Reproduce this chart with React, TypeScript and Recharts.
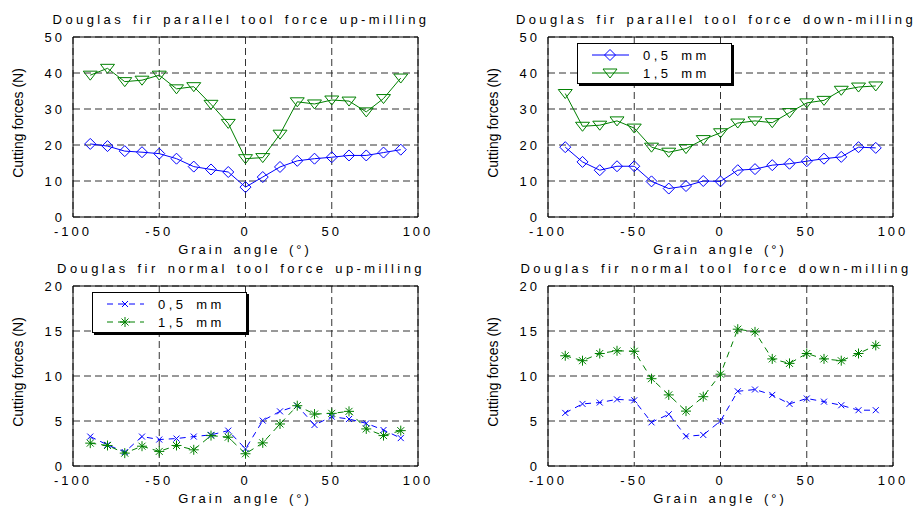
import { CartesianGrid, Line, LineChart, ReferenceArea, XAxis, YAxis } from "recharts";

const angles = [-90, -80, -70, -60, -50, -40, -30, -20, -10, 0, 10, 20, 30, 40, 50, 60, 70, 80, 90];

const parallelUpThin = [20.3, 19.7, 18.3, 18, 17.6, 16.2, 14, 13.2, 12.5, 8.3, 11.1, 13.9, 15.6, 16.2, 16.6, 17.1, 17.1, 17.9, 18.7];
const parallelUpThick = [39.4, 41.3, 37.6, 38, 39.4, 35.6, 36.2, 31.3, 26, 16.2, 16.5, 23, 32, 31.4, 32.5, 32.2, 29.2, 32.9, 38.6];
const parallelDownThin = [19.4, 15.3, 13, 14.1, 14.1, 9.9, 7.9, 8.6, 10, 9.9, 13, 13.3, 14.4, 14.8, 15.5, 16.2, 16.7, 19.4, 19.2];
const parallelDownThick = [34.3, 25.2, 25.5, 26.7, 24.7, 19.4, 18, 19, 21.5, 23.4, 26.1, 26.7, 26.2, 29, 31.7, 32.4, 35.2, 36.1, 36.4];
const normalUpThin = [3.27, 2.35, 1.55, 3.27, 2.94, 3.05, 3.27, 3.46, 3.93, 1.9, 5.04, 6.07, 6.7, 4.56, 5.48, 5.22, 4.74, 4.0, 3.1];
const normalUpThick = [2.54, 2.28, 1.43, 2.2, 1.62, 2.28, 1.8, 3.38, 3.2, 1.36, 2.57, 4.67, 6.7, 5.77, 5.85, 6.07, 4.12, 3.38, 3.93];
const normalDownThin = [5.9, 6.9, 7.05, 7.4, 7.3, 4.85, 5.75, 3.3, 3.45, 5.0, 8.3, 8.5, 7.9, 6.9, 7.5, 7.15, 6.75, 6.2, 6.2];
const normalDownThick = [12.25, 11.7, 12.5, 12.8, 12.75, 9.7, 7.9, 6.1, 7.7, 10.2, 15.2, 14.9, 11.9, 11.4, 12.5, 11.9, 11.7, 12.5, 13.4];

const xTicks = [-100, -50, 0, 50, 100];
const parallelTicks = [0, 10, 20, 30, 40, 50];
const normalTicks = [0, 5, 10, 15, 20];
const legendLabels = ["0,5 mm", "1,5 mm"];

const BLUE = "#0000ff";
const GREEN = "#008000";
const FONT = "'Liberation Sans', Arial, sans-serif";

type Marker = "diamond" | "triangle" | "cross" | "star";

function MarkerShape({ kind, cx, cy, color }: { kind: Marker; cx: number; cy: number; color: string }) {
  if (kind === "diamond") {
    return <polygon points={`${cx},${cy - 5.5} ${cx + 5.5},${cy} ${cx},${cy + 5.5} ${cx - 5.5},${cy}`} fill="none" stroke={color} />;
  }
  if (kind === "triangle") {
    return <polygon points={`${cx - 7},${cy - 4} ${cx + 7},${cy - 4} ${cx},${cy + 5}`} fill="none" stroke={color} />;
  }
  if (kind === "cross") {
    return (
      <g stroke={color}>
        <line x1={cx - 3} y1={cy - 3} x2={cx + 3} y2={cy + 3} />
        <line x1={cx - 3} y1={cy + 3} x2={cx + 3} y2={cy - 3} />
      </g>
    );
  }
  return (
    <g stroke={color}>
      <line x1={cx - 5} y1={cy} x2={cx + 5} y2={cy} />
      <line x1={cx} y1={cy - 5} x2={cx} y2={cy + 5} />
      <line x1={cx - 3.5} y1={cy - 3.5} x2={cx + 3.5} y2={cy + 3.5} />
      <line x1={cx - 3.5} y1={cy + 3.5} x2={cx + 3.5} y2={cy - 3.5} />
    </g>
  );
}

type PanelProps = {
  left: number;
  top: number;
  title: string;
  thin: number[];
  thick: number[];
  yMax: number;
  yTicks: number[];
  dashed: boolean;
  markers: [Marker, Marker];
};

function Panel({ left, top, title, thin, thick, yMax, yTicks, dashed, markers }: PanelProps) {
  const data = angles.map((angle, i) => ({ angle, thin: thin[i], thick: thick[i] }));
  const tickStyle = { fontSize: 13, fill: "#000", fontFamily: FONT, letterSpacing: 3 };
  const series = [
    { key: "thin", color: BLUE, marker: markers[0] },
    { key: "thick", color: GREEN, marker: markers[1] }
  ];

  return (
    <div style={{ position: "absolute", left, top, width: 460, height: 255 }}>
      <LineChart width={460} height={255} data={data} margin={{ top: 37, right: 42, bottom: 8, left: 33 }}>
        <CartesianGrid stroke="#333" strokeDasharray="7 4" />
        <XAxis
          dataKey="angle"
          type="number"
          domain={[-100, 100]}
          ticks={xTicks}
          tickLine={false}
          axisLine={false}
          height={30}
          tickMargin={4}
          tick={tickStyle}
        />
        <YAxis
          type="number"
          domain={[0, yMax]}
          ticks={yTicks}
          tickLine={false}
          axisLine={false}
          width={40}
          tick={tickStyle}
        />
        <ReferenceArea x1={-100} x2={100} y1={0} y2={yMax} fill="none" stroke="#000" strokeOpacity={1} />
        {series.map((s) => (
          <Line
            key={s.key}
            dataKey={s.key}
            type="linear"
            stroke={s.color}
            strokeWidth={1}
            strokeDasharray={dashed ? "6 5" : undefined}
            isAnimationActive={false}
            dot={(p: any) => <MarkerShape key={`${s.key}-${p.index}`} kind={s.marker} cx={p.cx} cy={p.cy} color={s.color} />}
            activeDot={false}
          />
        ))}
      </LineChart>
      <div
        style={{
          position: "absolute",
          left: 241,
          top: 19,
          transform: "translate(-50%, -50%)",
          whiteSpace: "nowrap",
          fontSize: 13,
          letterSpacing: 3.4,
          wordSpacing: 2
        }}
      >
        {title}
      </div>
      <div
        style={{
          position: "absolute",
          left: 245,
          top: 249,
          transform: "translate(-50%, -50%)",
          whiteSpace: "nowrap",
          fontSize: 13,
          letterSpacing: 3,
          wordSpacing: 2
        }}
      >
        Grain angle (°)
      </div>
      <div
        style={{
          position: "absolute",
          left: 18,
          top: 123,
          transform: "translate(-50%, -50%) rotate(-90deg)",
          whiteSpace: "nowrap",
          fontSize: 14
        }}
      >
        Cutting forces (N)
      </div>
    </div>
  );
}

function LegendBox({ left, top, markers, dashed }: { left: number; top: number; markers: [Marker, Marker]; dashed: boolean }) {
  const colors = [BLUE, GREEN];
  return (
    <div
      style={{
        position: "absolute",
        left,
        top,
        width: 153,
        height: 39,
        background: "#fff",
        border: "1px solid #000",
        boxShadow: "2px 2px 0 #000"
      }}
    >
      {legendLabels.map((label, i) => (
        <div key={label} style={{ position: "absolute", left: 0, top: 2 + i * 18, height: 18, display: "flex", alignItems: "center" }}>
          <svg width={60} height={18}>
            <line x1={14} y1={9} x2={51} y2={9} stroke={colors[i]} strokeDasharray={dashed ? "6 5" : undefined} />
            <MarkerShape kind={markers[i]} cx={32} cy={9} color={colors[i]} />
          </svg>
          <span style={{ fontSize: 13, letterSpacing: 3.4, wordSpacing: 3, marginLeft: 5 }}>{label}</span>
        </div>
      ))}
    </div>
  );
}

export default function App() {
  return (
    <div
      style={{
        position: "absolute",
        left: 0,
        top: 0,
        width: 920,
        height: 510,
        background: "#fff",
        fontFamily: FONT,
        color: "#000"
      }}
    >
      <Panel
        left={0}
        top={0}
        title="Douglas fir parallel tool force up-milling"
        thin={parallelUpThin}
        thick={parallelUpThick}
        yMax={50}
        yTicks={parallelTicks}
        dashed={false}
        markers={["diamond", "triangle"]}
      />
      <Panel
        left={475}
        top={0}
        title="Douglas fir parallel tool force down-milling"
        thin={parallelDownThin}
        thick={parallelDownThick}
        yMax={50}
        yTicks={parallelTicks}
        dashed={false}
        markers={["diamond", "triangle"]}
      />
      <Panel
        left={0}
        top={249}
        title="Douglas fir normal tool force up-milling"
        thin={normalUpThin}
        thick={normalUpThick}
        yMax={20}
        yTicks={normalTicks}
        dashed={true}
        markers={["cross", "star"]}
      />
      <Panel
        left={475}
        top={249}
        title="Douglas fir normal tool force down-milling"
        thin={normalDownThin}
        thick={normalDownThick}
        yMax={20}
        yTicks={normalTicks}
        dashed={true}
        markers={["cross", "star"]}
      />
      <LegendBox left={577} top={43} markers={["diamond", "triangle"]} dashed={false} />
      <LegendBox left={92} top={292} markers={["cross", "star"]} dashed={true} />
    </div>
  );
}
